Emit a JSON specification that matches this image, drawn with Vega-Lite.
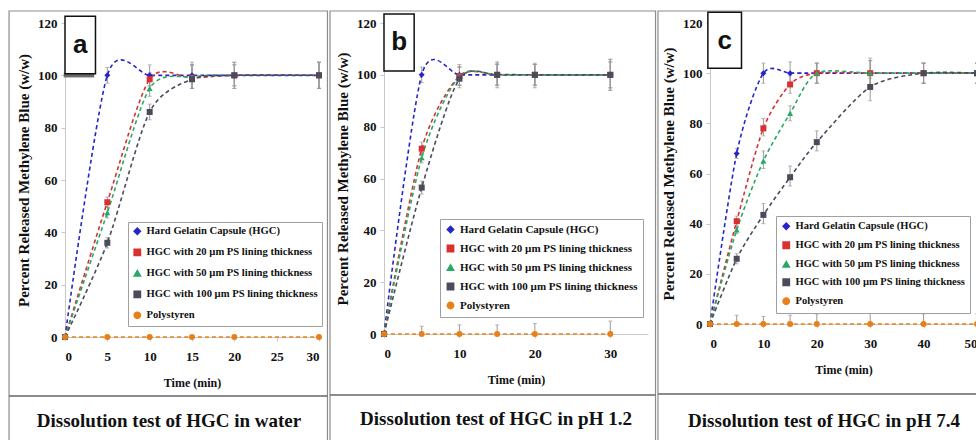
{
  "$schema": "https://vega.github.io/schema/vega-lite/v6.json",
  "background": "white",
  "padding": {"left": 8, "top": 10, "right": 0, "bottom": 0},
  "spacing": 0,
  "config": {
    "font": "Liberation Serif",
    "view": {"stroke": null},
    "axis": {"labelFont": "Liberation Serif", "labelFontWeight": "bold", "labelFontSize": 13, "labelColor": "#111", "titleFont": "Liberation Serif", "titleFontWeight": "bold", "titleColor": "#111", "domainColor": "#c8c8c8", "tickColor": "#c8c8c8", "tickSize": 4, "labelPadding": 4, "grid": false},
    "axisY": {"titleFontSize": 15, "titlePadding": 6},
    "axisX": {"titleFontSize": 12, "titlePadding": 14, "labelPadding": 9},
    "legend": {"labelFont": "Liberation Serif", "labelFontWeight": "bold", "labelFontSize": 11, "labelColor": "#111", "strokeColor": "#a0a0a0", "fillColor": "#ffffff", "padding": 5, "symbolSize": 40, "labelLimit": 400, "title": null}
  },
  "resolve": {"scale": {"x": "independent", "y": "independent", "color": "independent", "shape": "independent"}, "legend": {"color": "independent", "shape": "independent"}},
  "datasets": {
    "water": [
      {"series": "Hard Gelatin Capsule (HGC)", "time": 0, "value": 0, "lo": 0, "hi": 0},
      {"series": "Hard Gelatin Capsule (HGC)", "time": 5, "value": 100, "lo": 97, "hi": 103},
      {"series": "Hard Gelatin Capsule (HGC)", "time": 10, "value": 100, "lo": 96, "hi": 104},
      {"series": "Hard Gelatin Capsule (HGC)", "time": 15, "value": 100, "lo": 95, "hi": 105},
      {"series": "Hard Gelatin Capsule (HGC)", "time": 20, "value": 100, "lo": 95, "hi": 105},
      {"series": "Hard Gelatin Capsule (HGC)", "time": 30, "value": 100, "lo": 95, "hi": 105},
      {"series": "HGC with 20 µm PS lining thickness", "time": 0, "value": 0, "lo": 0, "hi": 0},
      {"series": "HGC with 20 µm PS lining thickness", "time": 5, "value": 51.5, "lo": 49.5, "hi": 53.5},
      {"series": "HGC with 20 µm PS lining thickness", "time": 10, "value": 98.5, "lo": 96, "hi": 101},
      {"series": "HGC with 20 µm PS lining thickness", "time": 15, "value": 99, "lo": 95, "hi": 104},
      {"series": "HGC with 20 µm PS lining thickness", "time": 20, "value": 100, "lo": 96, "hi": 104},
      {"series": "HGC with 20 µm PS lining thickness", "time": 30, "value": 100, "lo": 95, "hi": 105},
      {"series": "HGC with 50 µm PS lining thickness", "time": 0, "value": 0, "lo": 0, "hi": 0},
      {"series": "HGC with 50 µm PS lining thickness", "time": 5, "value": 47.5, "lo": 45.5, "hi": 50},
      {"series": "HGC with 50 µm PS lining thickness", "time": 10, "value": 95, "lo": 92, "hi": 98},
      {"series": "HGC with 50 µm PS lining thickness", "time": 15, "value": 99.5, "lo": 95, "hi": 104},
      {"series": "HGC with 50 µm PS lining thickness", "time": 20, "value": 100, "lo": 96, "hi": 104},
      {"series": "HGC with 50 µm PS lining thickness", "time": 30, "value": 100, "lo": 95, "hi": 105},
      {"series": "HGC with 100 µm PS lining thickness", "time": 0, "value": 0, "lo": 0, "hi": 0},
      {"series": "HGC with 100 µm PS lining thickness", "time": 5, "value": 36, "lo": 34, "hi": 38},
      {"series": "HGC with 100 µm PS lining thickness", "time": 10, "value": 86, "lo": 83, "hi": 89},
      {"series": "HGC with 100 µm PS lining thickness", "time": 15, "value": 98.5, "lo": 95, "hi": 104},
      {"series": "HGC with 100 µm PS lining thickness", "time": 20, "value": 100, "lo": 95, "hi": 105},
      {"series": "HGC with 100 µm PS lining thickness", "time": 30, "value": 100, "lo": 95, "hi": 105},
      {"series": "Polystyren", "time": 0, "value": 0, "lo": 0, "hi": 0},
      {"series": "Polystyren", "time": 5, "value": 0, "lo": 0, "hi": 0},
      {"series": "Polystyren", "time": 10, "value": 0, "lo": 0, "hi": 0},
      {"series": "Polystyren", "time": 15, "value": 0, "lo": 0, "hi": 0},
      {"series": "Polystyren", "time": 20, "value": 0, "lo": 0, "hi": 0},
      {"series": "Polystyren", "time": 30, "value": 0, "lo": 0, "hi": 0}
    ],
    "ph12": [
      {"series": "Hard Gelatin Capsule (HGC)", "time": 0, "value": 0, "lo": 0, "hi": 0},
      {"series": "Hard Gelatin Capsule (HGC)", "time": 5, "value": 100, "lo": 97, "hi": 103},
      {"series": "Hard Gelatin Capsule (HGC)", "time": 10, "value": 100, "lo": 96, "hi": 104},
      {"series": "Hard Gelatin Capsule (HGC)", "time": 15, "value": 100, "lo": 96, "hi": 104.5},
      {"series": "Hard Gelatin Capsule (HGC)", "time": 20, "value": 100, "lo": 96, "hi": 104.5},
      {"series": "Hard Gelatin Capsule (HGC)", "time": 30, "value": 100, "lo": 94, "hi": 106},
      {"series": "HGC with 20 µm PS lining thickness", "time": 0, "value": 0, "lo": 0, "hi": 0},
      {"series": "HGC with 20 µm PS lining thickness", "time": 5, "value": 71.5, "lo": 69, "hi": 74},
      {"series": "HGC with 20 µm PS lining thickness", "time": 10, "value": 99.5, "lo": 96, "hi": 103},
      {"series": "HGC with 20 µm PS lining thickness", "time": 15, "value": 100, "lo": 96, "hi": 104},
      {"series": "HGC with 20 µm PS lining thickness", "time": 20, "value": 100, "lo": 96, "hi": 104},
      {"series": "HGC with 20 µm PS lining thickness", "time": 30, "value": 100, "lo": 95, "hi": 105},
      {"series": "HGC with 50 µm PS lining thickness", "time": 0, "value": 0, "lo": 0, "hi": 0},
      {"series": "HGC with 50 µm PS lining thickness", "time": 5, "value": 68, "lo": 66, "hi": 70},
      {"series": "HGC with 50 µm PS lining thickness", "time": 10, "value": 99.5, "lo": 96, "hi": 103},
      {"series": "HGC with 50 µm PS lining thickness", "time": 15, "value": 100, "lo": 96, "hi": 104},
      {"series": "HGC with 50 µm PS lining thickness", "time": 20, "value": 100, "lo": 96, "hi": 104},
      {"series": "HGC with 50 µm PS lining thickness", "time": 30, "value": 100, "lo": 95, "hi": 105},
      {"series": "HGC with 100 µm PS lining thickness", "time": 0, "value": 0, "lo": 0, "hi": 0},
      {"series": "HGC with 100 µm PS lining thickness", "time": 5, "value": 56.5, "lo": 54, "hi": 59},
      {"series": "HGC with 100 µm PS lining thickness", "time": 10, "value": 98.5, "lo": 95, "hi": 103},
      {"series": "HGC with 100 µm PS lining thickness", "time": 15, "value": 100, "lo": 95, "hi": 105},
      {"series": "HGC with 100 µm PS lining thickness", "time": 20, "value": 100, "lo": 95, "hi": 104},
      {"series": "HGC with 100 µm PS lining thickness", "time": 30, "value": 100, "lo": 94, "hi": 106},
      {"series": "Polystyren", "time": 0, "value": 0, "lo": 0, "hi": 0},
      {"series": "Polystyren", "time": 5, "value": 0, "lo": 0, "hi": 3},
      {"series": "Polystyren", "time": 10, "value": 0, "lo": 0, "hi": 3.5},
      {"series": "Polystyren", "time": 15, "value": 0, "lo": 0, "hi": 3.5},
      {"series": "Polystyren", "time": 20, "value": 0, "lo": 0, "hi": 4},
      {"series": "Polystyren", "time": 30, "value": 0, "lo": 0, "hi": 5}
    ],
    "ph74": [
      {"series": "Hard Gelatin Capsule (HGC)", "time": 0, "value": 0, "lo": 0, "hi": 0},
      {"series": "Hard Gelatin Capsule (HGC)", "time": 5, "value": 68, "lo": 66, "hi": 70},
      {"series": "Hard Gelatin Capsule (HGC)", "time": 10, "value": 100, "lo": 96, "hi": 104},
      {"series": "Hard Gelatin Capsule (HGC)", "time": 15, "value": 100, "lo": 95.5, "hi": 104.5},
      {"series": "Hard Gelatin Capsule (HGC)", "time": 20, "value": 100, "lo": 96, "hi": 104},
      {"series": "Hard Gelatin Capsule (HGC)", "time": 30, "value": 100, "lo": 95, "hi": 105},
      {"series": "Hard Gelatin Capsule (HGC)", "time": 40, "value": 100, "lo": 96, "hi": 104},
      {"series": "Hard Gelatin Capsule (HGC)", "time": 50, "value": 100, "lo": 96, "hi": 104},
      {"series": "HGC with 20 µm PS lining thickness", "time": 0, "value": 0, "lo": 0, "hi": 0},
      {"series": "HGC with 20 µm PS lining thickness", "time": 5, "value": 41, "lo": 39, "hi": 43},
      {"series": "HGC with 20 µm PS lining thickness", "time": 10, "value": 78, "lo": 75, "hi": 82},
      {"series": "HGC with 20 µm PS lining thickness", "time": 15, "value": 95.5, "lo": 92, "hi": 99},
      {"series": "HGC with 20 µm PS lining thickness", "time": 20, "value": 100, "lo": 96, "hi": 104},
      {"series": "HGC with 20 µm PS lining thickness", "time": 30, "value": 100, "lo": 95, "hi": 105},
      {"series": "HGC with 20 µm PS lining thickness", "time": 40, "value": 100, "lo": 96, "hi": 104},
      {"series": "HGC with 20 µm PS lining thickness", "time": 50, "value": 100, "lo": 96, "hi": 104},
      {"series": "HGC with 50 µm PS lining thickness", "time": 0, "value": 0, "lo": 0, "hi": 0},
      {"series": "HGC with 50 µm PS lining thickness", "time": 5, "value": 37.5, "lo": 36, "hi": 40},
      {"series": "HGC with 50 µm PS lining thickness", "time": 10, "value": 65, "lo": 62, "hi": 69},
      {"series": "HGC with 50 µm PS lining thickness", "time": 15, "value": 84, "lo": 81, "hi": 87},
      {"series": "HGC with 50 µm PS lining thickness", "time": 20, "value": 100, "lo": 96, "hi": 104},
      {"series": "HGC with 50 µm PS lining thickness", "time": 30, "value": 100, "lo": 95, "hi": 106},
      {"series": "HGC with 50 µm PS lining thickness", "time": 40, "value": 100, "lo": 96, "hi": 104},
      {"series": "HGC with 50 µm PS lining thickness", "time": 50, "value": 100, "lo": 96, "hi": 104},
      {"series": "HGC with 100 µm PS lining thickness", "time": 0, "value": 0, "lo": 0, "hi": 0},
      {"series": "HGC with 100 µm PS lining thickness", "time": 5, "value": 26, "lo": 24, "hi": 28},
      {"series": "HGC with 100 µm PS lining thickness", "time": 10, "value": 43.5, "lo": 40, "hi": 48},
      {"series": "HGC with 100 µm PS lining thickness", "time": 15, "value": 58.5, "lo": 55, "hi": 63},
      {"series": "HGC with 100 µm PS lining thickness", "time": 20, "value": 72.5, "lo": 69, "hi": 77},
      {"series": "HGC with 100 µm PS lining thickness", "time": 30, "value": 94.5, "lo": 89, "hi": 98},
      {"series": "HGC with 100 µm PS lining thickness", "time": 40, "value": 100, "lo": 96, "hi": 104},
      {"series": "HGC with 100 µm PS lining thickness", "time": 50, "value": 100, "lo": 96, "hi": 104},
      {"series": "Polystyren", "time": 0, "value": 0, "lo": 0, "hi": 0},
      {"series": "Polystyren", "time": 5, "value": 0, "lo": 0, "hi": 3.5},
      {"series": "Polystyren", "time": 10, "value": 0, "lo": 0, "hi": 3},
      {"series": "Polystyren", "time": 15, "value": 0, "lo": 0, "hi": 3.5},
      {"series": "Polystyren", "time": 20, "value": 0, "lo": 0, "hi": 4},
      {"series": "Polystyren", "time": 30, "value": 0, "lo": 0, "hi": 4.5},
      {"series": "Polystyren", "time": 40, "value": 0, "lo": 0, "hi": 4},
      {"series": "Polystyren", "time": 50, "value": 0, "lo": 0, "hi": 4}
    ]
  },
  "hconcat": [
    {
      "width": 254,
      "height": 314,
      "layer": [
        {
          "data": {"values": [{"label": "Dissolution test of HGC  in water"}]},
          "mark": {"type": "rect", "fill": null, "fillOpacity": 0, "stroke": "#8c8c8c", "strokeWidth": 1.2, "clip": false},
          "encoding": {"x": {"datum": -6.61}, "x2": {"datum": 31.0}, "y": {"datum": -42.0}, "y2": {"datum": 124.59}}
        },
        {
          "data": {"values": [{"label": "Dissolution test of HGC  in water"}]},
          "mark": {"type": "rule", "stroke": "#666", "strokeWidth": 1.6, "clip": false},
          "encoding": {"x": {"datum": -6.61}, "x2": {"datum": 31.0}, "y": {"datum": -22.55}}
        },
        {
          "data": {"values": [{"label": "Dissolution test of HGC  in water"}]},
          "mark": {"type": "text", "font": "Liberation Serif", "fontWeight": "bold", "fontSize": 19, "color": "#111", "clip": false},
          "encoding": {"x": {"datum": 12.28}, "y": {"datum": -32.1}, "text": {"field": "label"}}
        },
        {
          "data": {"name": "water"},
          "transform": [{"filter": "datum.hi > datum.lo"}],
          "mark": {"type": "errorbar", "ticks": {"size": 4, "color": "#9a9a9a"}, "rule": {"color": "#9a9a9a", "strokeWidth": 1}},
          "encoding": {
            "x": {"field": "time", "type": "quantitative", "title": "Time (min)"},
            "y": {"field": "lo", "type": "quantitative", "title": "Percent Released Methylene Blue (w/w)"},
            "y2": {"field": "hi"}
          }
        },
        {
          "data": {"name": "water"},
          "mark": {"type": "line", "interpolate": "cardinal", "tension": 0.2, "strokeDash": [4, 3], "strokeWidth": 1.6},
          "encoding": {
            "x": {"field": "time", "type": "quantitative", "title": "Time (min)", "scale": {"domain": [0, 30], "nice": false}, "axis": {"values": [0, 5, 10, 15, 20, 25, 30]}},
            "y": {"field": "value", "type": "quantitative", "title": "Percent Released Methylene Blue (w/w)", "scale": {"domain": [0, 120], "nice": false}, "axis": {"values": [0, 20, 40, 60, 80, 100, 120]}},
            "color": {"field": "series", "type": "nominal", "sort": null, "scale": {"domain": ["Hard Gelatin Capsule (HGC)", "HGC with 20 µm PS lining thickness", "HGC with 50 µm PS lining thickness", "HGC with 100 µm PS lining thickness", "Polystyren"], "range": ["#2626c8", "#d93030", "#2aa866", "#4b4b5c", "#e8801a"]}}
          }
        },
        {
          "data": {"name": "water"},
          "mark": {"type": "point", "filled": true, "size": 36, "opacity": 1},
          "encoding": {
            "x": {"field": "time", "type": "quantitative", "title": "Time (min)"},
            "y": {"field": "value", "type": "quantitative", "title": "Percent Released Methylene Blue (w/w)"},
            "color": {"field": "series", "type": "nominal", "sort": null, "legend": {"orient": "none", "legendX": 63, "legendY": 199, "rowPadding": 8, "labelFontSize": 10.6, "padding": 4}},
            "shape": {"field": "series", "type": "nominal", "sort": null, "scale": {"domain": ["Hard Gelatin Capsule (HGC)", "HGC with 20 µm PS lining thickness", "HGC with 50 µm PS lining thickness", "HGC with 100 µm PS lining thickness", "Polystyren"], "range": ["diamond", "square", "triangle-up", "square", "circle"]}, "legend": {"orient": "none", "legendX": 63, "legendY": 199, "rowPadding": 8, "labelFontSize": 10.6, "padding": 4}}
          }
        },
        {
          "data": {"values": [{"label": "a"}]},
          "mark": {"type": "rect", "fill": "#6a6a6a", "clip": false},
          "encoding": {"x": {"datum": -0.15}, "x2": {"datum": 3.45}, "y": {"datum": 99.2}, "y2": {"datum": 101}}
        },
        {
          "data": {"values": [{"label": "a"}]},
          "mark": {"type": "rect", "fill": "#ffffff", "stroke": "#111", "strokeWidth": 1.5, "clip": false},
          "encoding": {"x": {"datum": 0}, "x2": {"datum": 3.6}, "y": {"datum": 100.6}, "y2": {"datum": 122.6}}
        },
        {
          "data": {"values": [{"label": "a"}]},
          "mark": {"type": "text", "font": "Liberation Sans", "fontWeight": "bold", "fontSize": 26, "color": "#111", "clip": false},
          "encoding": {"x": {"datum": 1.8}, "y": {"datum": 111.5}, "text": {"field": "label"}}
        }
      ]
    },
    {
      "width": 264,
      "height": 311,
      "layer": [
        {
          "data": {"values": [{"label": "Dissolution test of HGC  in pH 1.2"}]},
          "mark": {"type": "rect", "fill": null, "fillOpacity": 0, "stroke": "#8c8c8c", "strokeWidth": 1.2, "clip": false},
          "encoding": {"x": {"datum": -7.16}, "x2": {"datum": 36.0}, "y": {"datum": -43.6}, "y2": {"datum": 124.63}}
        },
        {
          "data": {"values": [{"label": "Dissolution test of HGC  in pH 1.2"}]},
          "mark": {"type": "rule", "stroke": "#666", "strokeWidth": 1.6, "clip": false},
          "encoding": {"x": {"datum": -7.16}, "x2": {"datum": 36.0}, "y": {"datum": -23.54}}
        },
        {
          "data": {"values": [{"label": "Dissolution test of HGC  in pH 1.2"}]},
          "mark": {"type": "text", "font": "Liberation Serif", "fontWeight": "bold", "fontSize": 19, "color": "#111", "clip": false},
          "encoding": {"x": {"datum": 14.85}, "y": {"datum": -32.8}, "text": {"field": "label"}}
        },
        {
          "data": {"name": "ph12"},
          "transform": [{"filter": "datum.hi > datum.lo"}],
          "mark": {"type": "errorbar", "ticks": {"size": 4, "color": "#9a9a9a"}, "rule": {"color": "#9a9a9a", "strokeWidth": 1}},
          "encoding": {
            "x": {"field": "time", "type": "quantitative", "title": "Time (min)"},
            "y": {"field": "lo", "type": "quantitative", "title": "Percent Released Methylene Blue (w/w)"},
            "y2": {"field": "hi"}
          }
        },
        {
          "data": {"name": "ph12"},
          "mark": {"type": "line", "interpolate": "cardinal", "tension": 0.2, "strokeDash": [4, 3], "strokeWidth": 1.6},
          "encoding": {
            "x": {"field": "time", "type": "quantitative", "title": "Time (min)", "scale": {"domain": [0, 35], "nice": false}, "axis": {"values": [0, 5, 10, 15, 20, 25, 30, 35]}},
            "y": {"field": "value", "type": "quantitative", "title": "Percent Released Methylene Blue (w/w)", "scale": {"domain": [0, 120], "nice": false}, "axis": {"values": [0, 20, 40, 60, 80, 100, 120]}},
            "color": {"field": "series", "type": "nominal", "sort": null, "scale": {"domain": ["Hard Gelatin Capsule (HGC)", "HGC with 20 µm PS lining thickness", "HGC with 50 µm PS lining thickness", "HGC with 100 µm PS lining thickness", "Polystyren"], "range": ["#2626c8", "#d93030", "#2aa866", "#4b4b5c", "#e8801a"]}}
          }
        },
        {
          "data": {"name": "ph12"},
          "mark": {"type": "point", "filled": true, "size": 36, "opacity": 1},
          "encoding": {
            "x": {"field": "time", "type": "quantitative", "title": "Time (min)"},
            "y": {"field": "value", "type": "quantitative", "title": "Percent Released Methylene Blue (w/w)"},
            "color": {"field": "series", "type": "nominal", "sort": null, "legend": {"orient": "none", "legendX": 56, "legendY": 196, "rowPadding": 6}},
            "shape": {"field": "series", "type": "nominal", "sort": null, "scale": {"domain": ["Hard Gelatin Capsule (HGC)", "HGC with 20 µm PS lining thickness", "HGC with 50 µm PS lining thickness", "HGC with 100 µm PS lining thickness", "Polystyren"], "range": ["diamond", "square", "triangle-up", "square", "circle"]}, "legend": {"orient": "none", "legendX": 56, "legendY": 196, "rowPadding": 6}}
          }
        },
        {
          "data": {"values": [{"label": "b"}]},
          "mark": {"type": "rect", "fill": "#ffffff", "stroke": "#111", "strokeWidth": 1.5, "clip": false},
          "encoding": {"x": {"datum": 0}, "x2": {"datum": 4}, "y": {"datum": 101.5}, "y2": {"datum": 123.5}}
        },
        {
          "data": {"values": [{"label": "b"}]},
          "mark": {"type": "text", "font": "Liberation Sans", "fontWeight": "bold", "fontSize": 26, "color": "#111", "clip": false},
          "encoding": {"x": {"datum": 2}, "y": {"datum": 112.5}, "text": {"field": "label"}}
        }
      ]
    },
    {
      "width": 267,
      "height": 301,
      "layer": [
        {
          "data": {"values": [{"label": "Dissolution test of HGC  in pH 7.4"}]},
          "mark": {"type": "rect", "fill": null, "fillOpacity": 0, "stroke": "#8c8c8c", "strokeWidth": 1.2, "clip": false},
          "encoding": {"x": {"datum": -9.74}, "x2": {"datum": 51.8}, "y": {"datum": -49.0}, "y2": {"datum": 124.78}}
        },
        {
          "data": {"values": [{"label": "Dissolution test of HGC  in pH 7.4"}]},
          "mark": {"type": "rule", "stroke": "#666", "strokeWidth": 1.6, "clip": false},
          "encoding": {"x": {"datum": -9.74}, "x2": {"datum": 51.8}, "y": {"datum": -27.9}}
        },
        {
          "data": {"values": [{"label": "Dissolution test of HGC  in pH 7.4"}]},
          "mark": {"type": "text", "font": "Liberation Serif", "fontWeight": "bold", "fontSize": 19, "color": "#111", "clip": false},
          "encoding": {"x": {"datum": 21.35}, "y": {"datum": -38.67}, "text": {"field": "label"}}
        },
        {
          "data": {"name": "ph74"},
          "transform": [{"filter": "datum.hi > datum.lo"}],
          "mark": {"type": "errorbar", "ticks": {"size": 4, "color": "#9a9a9a"}, "rule": {"color": "#9a9a9a", "strokeWidth": 1}},
          "encoding": {
            "x": {"field": "time", "type": "quantitative", "title": "Time (min)"},
            "y": {"field": "lo", "type": "quantitative", "title": "Percent Released Methylene Blue (w/w)"},
            "y2": {"field": "hi"}
          }
        },
        {
          "data": {"name": "ph74"},
          "mark": {"type": "line", "interpolate": "cardinal", "tension": 0.2, "strokeDash": [4, 3], "strokeWidth": 1.6},
          "encoding": {
            "x": {"field": "time", "type": "quantitative", "title": "Time (min)", "scale": {"domain": [0, 50], "nice": false}, "axis": {"values": [0, 10, 20, 30, 40, 50]}},
            "y": {"field": "value", "type": "quantitative", "title": "Percent Released Methylene Blue (w/w)", "scale": {"domain": [0, 120], "nice": false}, "axis": {"values": [0, 20, 40, 60, 80, 100, 120]}},
            "color": {"field": "series", "type": "nominal", "sort": null, "scale": {"domain": ["Hard Gelatin Capsule (HGC)", "HGC with 20 µm PS lining thickness", "HGC with 50 µm PS lining thickness", "HGC with 100 µm PS lining thickness", "Polystyren"], "range": ["#2626c8", "#d93030", "#2aa866", "#4b4b5c", "#e8801a"]}}
          }
        },
        {
          "data": {"name": "ph74"},
          "mark": {"type": "point", "filled": true, "size": 36, "opacity": 1},
          "encoding": {
            "x": {"field": "time", "type": "quantitative", "title": "Time (min)"},
            "y": {"field": "value", "type": "quantitative", "title": "Percent Released Methylene Blue (w/w)"},
            "color": {"field": "series", "type": "nominal", "sort": null, "legend": {"orient": "none", "legendX": 66, "legendY": 193, "rowPadding": 6, "labelFontSize": 10.5}},
            "shape": {"field": "series", "type": "nominal", "sort": null, "scale": {"domain": ["Hard Gelatin Capsule (HGC)", "HGC with 20 µm PS lining thickness", "HGC with 50 µm PS lining thickness", "HGC with 100 µm PS lining thickness", "Polystyren"], "range": ["diamond", "square", "triangle-up", "square", "circle"]}, "legend": {"orient": "none", "legendX": 66, "legendY": 193, "rowPadding": 6, "labelFontSize": 10.5}}
          }
        },
        {
          "data": {"values": [{"label": "c"}]},
          "mark": {"type": "rect", "fill": "#ffffff", "stroke": "#111", "strokeWidth": 1.5, "clip": false},
          "encoding": {"x": {"datum": -0.4}, "x2": {"datum": 5.9}, "y": {"datum": 102}, "y2": {"datum": 124.3}}
        },
        {
          "data": {"values": [{"label": "c"}]},
          "mark": {"type": "text", "font": "Liberation Sans", "fontWeight": "bold", "fontSize": 26, "color": "#111", "clip": false},
          "encoding": {"x": {"datum": 2.75}, "y": {"datum": 113}, "text": {"field": "label"}}
        }
      ]
    }
  ]
}
